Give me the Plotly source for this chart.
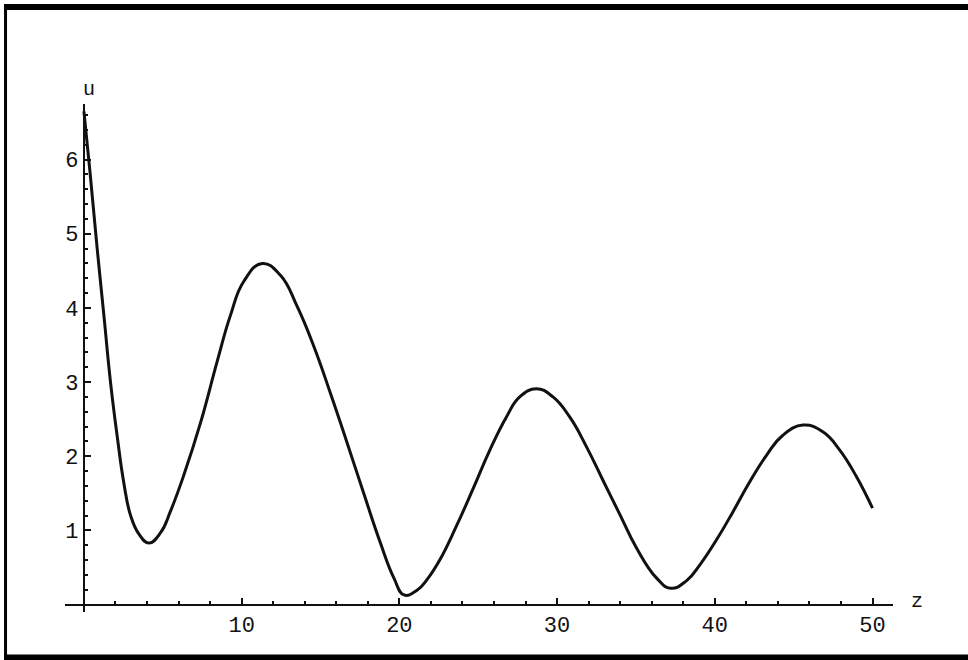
import plotly.graph_objects as go

# Data
z_vals = [0, 0.4, 0.85, 1.27, 1.69, 2.11, 2.53, 2.96, 3.49, 4.12, 4.86, 5.49, 6.34,
          7.39, 8.45, 9.29, 10.14, 11.3, 12.46, 13.52, 14.58, 15.63, 16.69, 17.74,
          18.8, 19.65, 20.3, 21.1, 21.8, 22.56, 23.6, 24.67, 25.73, 26.79, 27.63,
          28.69, 29.74, 30.8, 31.86, 32.9, 33.97, 35.02, 36.3, 37.2, 38.2, 39.1,
          40.1, 41.15, 42.2, 43.3, 44.3, 45.6, 46.85, 47.9, 48.97, 50.0]
u_vals = [6.65, 5.8, 4.78, 3.89, 2.99, 2.27, 1.64, 1.2, 0.95, 0.83, 0.97, 1.26, 1.75,
          2.45, 3.28, 3.9, 4.36, 4.6, 4.44, 4.02, 3.48, 2.85, 2.18, 1.5,
          0.83, 0.36, 0.13, 0.19, 0.35, 0.6, 1.05, 1.56, 2.08, 2.53, 2.8,
          2.91, 2.8, 2.53, 2.13, 1.68, 1.22, 0.77, 0.36, 0.22, 0.32, 0.55,
          0.87, 1.25, 1.65, 2.02, 2.28, 2.42, 2.33, 2.09, 1.73, 1.3]

x_ticks = [10, 20, 30, 40, 50]
y_ticks = [1, 2, 3, 4, 5, 6]
x_label = "z"
y_label = "u"

W, H = 968, 660
L, R, T, B = 65, 74.5, 104, 47.6
xr = [-1.2, 51.3]
yr = [-0.1, 6.75]

FONT = "Liberation Mono"
INK = "#111111"
TXT = "#111111"

fig = go.Figure()
fig.add_trace(go.Scatter(x=z_vals, y=u_vals, mode="lines",
                         line=dict(color=INK, width=3, shape="spline", smoothing=1.3),
                         showlegend=False, hoverinfo="skip"))

pw = W - L - R
ph = H - T - B

def px_to_paper_x(px):
    return (px - L) / pw

def px_to_paper_y(py):
    return (H - B - py) / ph

xpos = (0 - yr[0]) / (yr[1] - yr[0])
ypos = (0 - xr[0]) / (xr[1] - xr[0])

fig.update_layout(
    width=W, height=H,
    margin=dict(l=L, r=R, t=T, b=B),
    paper_bgcolor="white", plot_bgcolor="white",
    xaxis=dict(range=xr, anchor="free", position=xpos, showgrid=False, zeroline=False,
               showline=True, linecolor=INK, linewidth=2,
               tickvals=x_ticks, ticks="inside", ticklen=6, tickwidth=2, tickcolor=INK,
               minor=dict(ticks="inside", dtick=2, tick0=0, ticklen=3, tickwidth=1.5,
                          tickcolor=INK, showgrid=False),
               tickfont=dict(family=FONT, size=22, color=TXT)),
    yaxis=dict(range=yr, anchor="free", position=ypos, showgrid=False, zeroline=False,
               showline=True, linecolor=INK, linewidth=2,
               tickvals=y_ticks, ticks="inside", ticklen=6, tickwidth=2, tickcolor=INK,
               minor=dict(ticks="inside", dtick=0.2, tick0=0, ticklen=3, tickwidth=1.5,
                          tickcolor=INK, showgrid=False),
               tickfont=dict(family=FONT, size=22, color=TXT)),
    annotations=[
        dict(x=px_to_paper_x(89), y=px_to_paper_y(89), xref="paper", yref="paper",
             xanchor="center", yanchor="middle",
             text=y_label, showarrow=False,
             font=dict(family=FONT, size=20, color=TXT)),
        dict(x=px_to_paper_x(918), y=px_to_paper_y(602), xref="paper", yref="paper",
             xanchor="center", yanchor="middle",
             text=x_label, showarrow=False,
             font=dict(family=FONT, size=20, color=TXT)),
    ],
    shapes=[
        dict(type="rect", xref="paper", yref="paper",
             x0=px_to_paper_x(4), x1=px_to_paper_x(W + 5),
             y0=px_to_paper_y(10), y1=px_to_paper_y(4),
             fillcolor="black", line=dict(width=0)),
        dict(type="rect", xref="paper", yref="paper",
             x0=px_to_paper_x(4), x1=px_to_paper_x(7),
             y0=px_to_paper_y(660), y1=px_to_paper_y(4),
             fillcolor="black", line=dict(width=0)),
        dict(type="rect", xref="paper", yref="paper",
             x0=px_to_paper_x(4), x1=px_to_paper_x(W + 5),
             y0=px_to_paper_y(H + 5), y1=px_to_paper_y(655),
             fillcolor="black", line=dict(width=0)),
    ],
)

fig.write_html("out.html", config={"displayModeBar": False},
               post_script="document.body.style.margin='0';")
